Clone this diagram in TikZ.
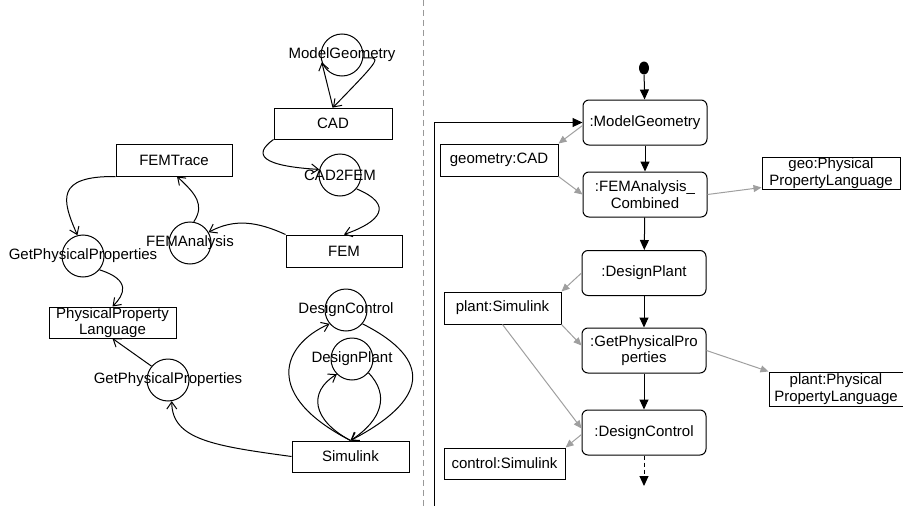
\documentclass[tikz,border=0pt]{standalone}
\usepackage{fontspec}
\setmainfont{Liberation Sans}
\usepackage{tikz}
\usetikzlibrary{arrows.meta,positioning}
\usetikzlibrary{shapes.geometric}

\begin{document}
\begin{tikzpicture}[
    x=1pt, y=-1pt,
    line width=1pt,
    font=\fontsize{15pt}{16.5pt}\selectfont,
    >={Straight Barb[length=7pt,width=10pt]},
    % use cases (circles) and artefacts (boxes) on the left
    usecase/.style={draw, circle, minimum size=42pt, inner sep=0pt},
    artefact/.style={draw, rectangle, minimum height=31pt, inner sep=0pt, align=center},
    % activity diagram on the right
    action/.style={draw, rectangle, rounded corners=6pt, minimum width=124pt, minimum height=45pt, inner sep=0pt, align=center},
    objbox/.style={draw, rectangle, minimum height=32pt, inner sep=0pt, align=center},
    flow/.style={-{Triangle[length=10pt,width=9pt]}},
    objflow/.style={draw=gray!75, -{Triangle[length=8pt,width=7pt]}}
]
\useasboundingbox (0,0) rectangle (903,506);

% --- 1. divider ---
\draw[gray!80, line width=1pt, dash pattern=on 6pt off 4pt] (423,0) -- (423,506);

% --- 2. left: use cases and artefacts ---
\node[usecase, label=center:ModelGeometry] (mg) at (342,55) {};
\node[artefact, minimum width=118pt] (cad) at (333,123.5) {CAD};
\node[usecase, label=center:CAD2FEM] (c2f) at (340,175) {};
\node[artefact, minimum width=116pt, minimum height=32pt] (fem) at (344,251) {FEM};
\node[usecase, label=center:FEMAnalysis] (fa) at (190,243) {};
\node[artefact, minimum width=116pt, minimum height=32pt] (trace) at (174,160) {FEMTrace};
\node[usecase, label=center:GetPhysicalProperties] (gpp1) at (83,256) {};
\node[artefact, minimum width=127pt] (ppl) at (112.5,322.5) {PhysicalProperty\\Language};
\node[usecase, label=center:GetPhysicalProperties] (gpp2) at (168,380) {};
\node[artefact, minimum width=117pt] (sim) at (350.5,456.5) {Simulink};
\node[usecase, label=center:DesignControl] (dc) at (346,310) {};
\node[usecase, label=center:DesignPlant] (dp) at (352,359) {};

% connections on the left
\draw[->] (cad.north) -- (mg.200);
\draw[->] (mg.-8) .. controls (382,57) .. (cad.north);
\draw[->] (cad.south west) .. controls (252,155) and (262,166) .. (c2f.165);
\draw[->] (c2f.-40) .. controls (395,205) and (380,222) .. (fem.north);
\draw[->] (fem.north west) .. controls (258,222) and (235,218) .. (fa.30);
\draw[->] (fa.80) .. controls (205,205) and (196,194) .. ([xshift=3pt]trace.south);
\draw[->] (trace.south west) .. controls (55,176) and (62,200) .. (gpp1.105);
\draw[->] (gpp1.-40) .. controls (132,280) and (124,295) .. (ppl.north);
\draw[->] (gpp2.140) -- (ppl.south);
\draw[->] (sim.west) .. controls (215,446) and (172,440) .. (gpp2.-80);
\draw[->] (sim.north) .. controls (262,395) and (282,345) .. (dc.220);
\draw[->] (dc.-40) .. controls (434,360) and (428,400) .. (sim.north);
\draw[->] (sim.north) .. controls (312,420) and (308,392) .. (dp.225);
\draw[->] (dp.-40) .. controls (390,395) and (382,420) .. (sim.north);

% --- 3. right: activity diagram ---
\node[fill, ellipse, minimum width=10pt, minimum height=13pt, inner sep=0pt] (init) at (644,68) {};
\node[action] (amg) at (645,122.5) {:ModelGeometry};
\node[action] (afem) at (645,194.5) {:FEMAnalysis\_\\Combined};
\node[action] (adp) at (644,273) {:DesignPlant};
\node[action] (agpp) at (644,350.5) {:GetPhysicalPro\\perties};
\node[action] (adc) at (644,432.5) {:DesignControl};
\coordinate (next) at (644,486);
\coordinate (loopend) at (434,506);

% objects
\node[objbox, minimum width=118pt] (ocad) at (499,160) {geometry:CAD};
\node[objbox, minimum width=138pt] (ogeo) at (831,173) {geo:Physical\\PropertyLanguage};
\node[objbox, minimum width=117pt] (oplant) at (502.5,308) {plant:Simulink};
\node[objbox, minimum width=134pt, minimum height=34pt] (oppl) at (836,389) {plant:Physical\\PropertyLanguage};
\node[objbox, minimum width=121pt, minimum height=31pt] (octrl) at (504.5,463.5) {control:Simulink};

% control flow
\draw[flow] (init) -- (amg);
\draw[flow] (amg) -- (afem);
\draw[flow] (afem) -- (adp);
\draw[flow] (adp) -- (agpp);
\draw[flow] (agpp) -- (adc);
\draw[flow, dash pattern=on 4pt off 3pt] (adc) -- (next);
\draw[flow] (loopend) |- (amg.west);

% object flow (grey)
\draw[objflow] ([yshift=-3pt]amg.west) -- (ocad.north east);
\draw[objflow] (ocad.south east) -- (afem.west);
\draw[objflow] (afem.east) -- ([yshift=2pt]ogeo.south west);
\draw[objflow] (adp.west) -- (oplant.north east);
\draw[objflow] (oplant.south east) -- ([yshift=5pt]agpp.west);
\draw[objflow] (oplant.south) -- ([yshift=4pt]adc.west);
\draw[objflow] (agpp.east) -- (oppl.north west);
\draw[objflow] ([yshift=-2pt]adc.west) -- (octrl.north east);

\end{tikzpicture}
\end{document}
